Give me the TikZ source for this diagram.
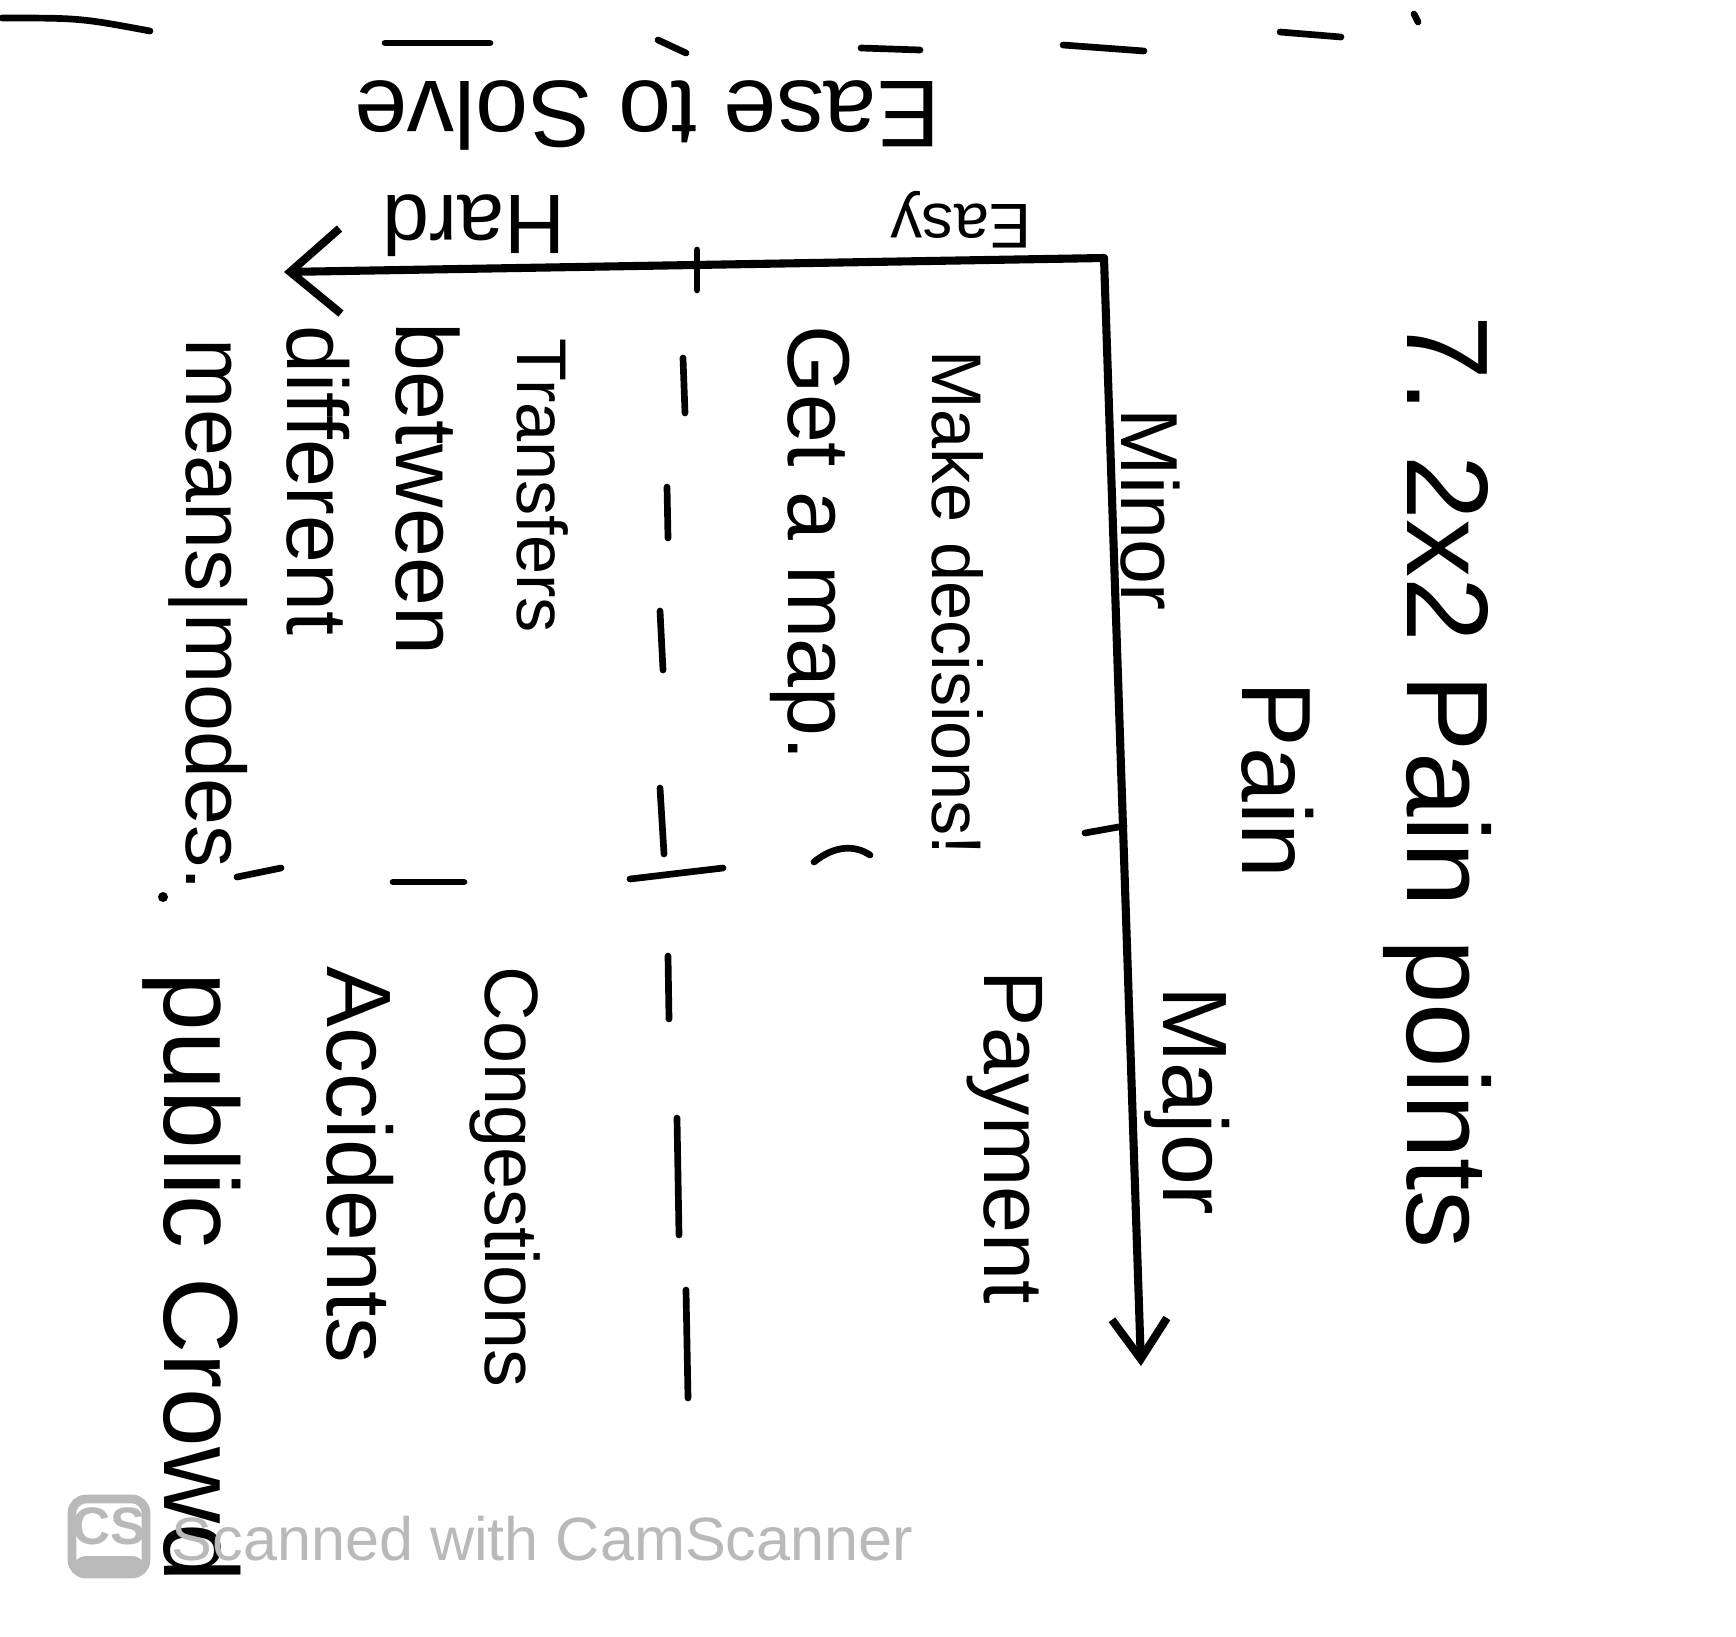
\documentclass[tikz,border=0pt]{standalone}
\usepackage{fontspec}
\setmainfont{Liberation Sans}
\usetikzlibrary{arrows.meta}

\definecolor{scangray}{RGB}{185,185,185}

\tikzset{
  ink/.style={line width=2.3pt, line cap=round, line join=round},
  dashmark/.style={line width=1.9pt, line cap=round},
  hand/.style={inner sep=0pt, anchor=west, rotate=-90, font=\fontsize{#1}{#1}\selectfont},
  flip/.style={inner sep=0pt, anchor=west, rotate=180, font=\fontsize{#1}{#1}\selectfont},
}

\begin{document}
\begin{tikzpicture}[x=0.01cm, y=-0.01cm]
  \useasboundingbox (0,0) rectangle (1736,1636);

  % torn dashes along the top edge
  \draw[dashmark] (2,18) .. controls (80,18) .. (150,31);
  \foreach \xa/\ya/\xb/\yb in {385/43/490/43, 658/40/686/53, 861/48/920/50,
      1063/45/1144/51, 1280/32/1341/37, 1414/14/1418/22}
    \draw[dashmark] (\xa,\ya) -- (\xb,\yb);

  % axes
  \coordinate (corner) at (1104,258);
  \coordinate (painend) at (1141,1366);
  \coordinate (easeend) at (284,272);
  \draw[ink, -{Straight Barb[length=4mm, width=5.5mm]}] (corner) -- (painend);
  \draw[ink, -{Straight Barb[length=5mm, width=8.5mm]}] (corner) -- (easeend);
  \draw[dashmark] (1085,833) -- (1124,826);
  \draw[dashmark] (697,250) -- (697,290);

  % dashed dividers
  \foreach \xa/\ya/\xb/\yb in {683/358/685/413, 667/487/668/538, 660/611/663/670,
      660/788/664/854, 668/956/669/1019, 677/1118/679/1235, 686/1290/688/1398}
    \draw[dashmark] (\xa,\ya) -- (\xb,\yb);
  \foreach \xa/\ya/\xb/\yb in {630/879/723/868, 393/882/464/882, 237/877/281/868}
    \draw[dashmark] (\xa,\ya) -- (\xb,\yb);
  \draw[dashmark] (814,862) .. controls (835,845) and (855,845) .. (870,855);
  \fill (163,897) circle (5);

  % labels
  \node[hand=33] (title) at (1437,315) {7. 2x2 Pain points};
  \node[hand=28] (pain) at (1278,681) {Pain};
  \node[hand=23] (minor) at (1150,408) {Minor};
  \node[hand=26] (major) at (1187,986) {Major};
  \node[flip=27] (ease) at (941,115) {Ease to Solve};
  \node[flip=18] (easy) at (1032,220) {Easy};
  \node[flip=24] (hard) at (566,226) {Hard};

  % minor pain
  \node[hand=20] (decide) at (958,350) {Make decisions!};
  \node[hand=25] (getmap) at (810,325) {Get a map.};
  \node[hand=20] (transfer1) at (543,338) {Transfers};
  \node[hand=25] (transfer2) at (428,322) {between};
  \node[hand=24.5] (transfer3) at (318,325) {different};
  \node[hand=24] (transfer4) at (208,338) {means|modes.};

  % major pain
  \node[hand=24] (payment) at (1005,970) {Payment};
  \node[hand=21.5] (congest) at (505,966) {Congestions};
  \node[hand=26] (accident) at (360,966) {Accidents};
  \node[hand=30] (crowd) at (192,972) {public Crowd};

  % scanner stamp
  \draw[scangray, line width=2.5pt, rounded corners=4] (72,1499) rectangle (146,1574);
  \fill[scangray, rounded corners=4] (72,1556) rectangle (146,1574);
  \node[scangray, inner sep=0pt, font=\fontsize{15}{15}\selectfont\bfseries] (cs) at (109,1526) {CS};
  \node[scangray, inner sep=0pt, anchor=base west, font=\fontsize{17.4}{17.4}\selectfont] (stamp) at (171,1560) {Scanned with CamScanner};
\end{tikzpicture}
\end{document}
